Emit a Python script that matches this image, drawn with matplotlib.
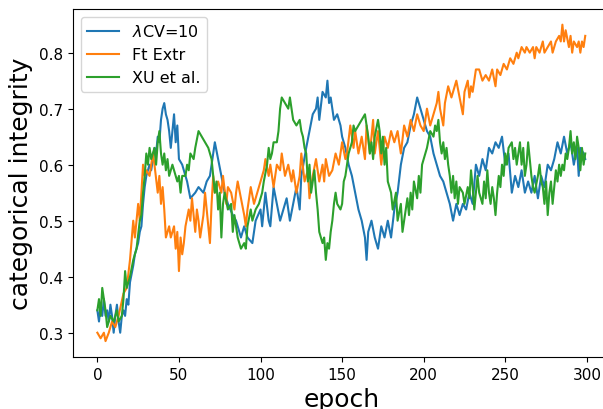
import matplotlib
matplotlib.use('Agg')
import matplotlib.pyplot as plt

# values, (epoch, value) pairs per series
cv_epochs = [0, 1, 2, 3, 4, 5, 6, 7, 8, 9, 10, 11, 12, 13, 14, 15, 16, 17, 18, 19,
             20, 22, 23, 25, 26, 27, 28, 29, 30, 32, 33, 35, 36, 37, 38, 39, 40, 41, 42, 43,
             44, 45, 46, 47, 48, 49, 50, 52, 55, 57, 60, 62, 65, 67, 69, 71, 72, 74, 76, 78,
             80, 83, 85, 88, 90, 92, 95, 97, 100, 101, 103, 105, 106, 108, 110, 112, 114, 116, 118, 120,
             122, 124, 125, 128, 130, 132, 134, 135, 136, 138, 140, 141, 142, 143, 145, 147, 149, 150, 152, 154,
             156, 158, 160, 162, 164, 165, 166, 168, 170, 172, 174, 176, 178, 180, 182, 184, 186, 188, 190, 192,
             194, 196, 198, 200, 202, 204, 206, 208, 210, 212, 214, 216, 218, 220, 222, 224, 226, 228, 230, 232,
             234, 236, 238, 240, 242, 244, 246, 248, 250, 252, 254, 256, 258, 260, 262, 264, 266, 268, 270, 272,
             274, 276, 278, 280, 282, 284, 286, 288, 290, 292, 294, 295, 296, 298, 299]
cv_values = [0.34, 0.32, 0.35, 0.33, 0.36, 0.33, 0.34, 0.32, 0.35, 0.33, 0.30, 0.33, 0.35, 0.32, 0.30, 0.33, 0.34, 0.33, 0.36, 0.35,
             0.39, 0.42, 0.44, 0.46, 0.48, 0.49, 0.53, 0.56, 0.58, 0.60, 0.59, 0.63, 0.62, 0.65, 0.64, 0.68, 0.70, 0.71, 0.69, 0.68,
             0.66, 0.63, 0.66, 0.69, 0.64, 0.67, 0.61, 0.60, 0.57, 0.54, 0.55, 0.56, 0.55, 0.57, 0.58, 0.62, 0.64, 0.61, 0.58, 0.55,
             0.53, 0.51, 0.50, 0.47, 0.49, 0.47, 0.46, 0.50, 0.52, 0.49, 0.55, 0.50, 0.49, 0.56, 0.53, 0.50, 0.52, 0.54, 0.50, 0.53,
             0.56, 0.52, 0.58, 0.63, 0.66, 0.69, 0.70, 0.72, 0.68, 0.73, 0.72, 0.75, 0.71, 0.72, 0.68, 0.69, 0.67, 0.65, 0.63, 0.60,
             0.58, 0.55, 0.52, 0.50, 0.47, 0.43, 0.48, 0.50, 0.47, 0.45, 0.49, 0.47, 0.50, 0.47, 0.52, 0.55, 0.60, 0.63, 0.64, 0.67,
             0.69, 0.72, 0.70, 0.68, 0.66, 0.65, 0.62, 0.60, 0.58, 0.57, 0.55, 0.53, 0.50, 0.53, 0.51, 0.53, 0.52, 0.55, 0.53, 0.60,
             0.58, 0.61, 0.59, 0.63, 0.62, 0.64, 0.63, 0.65, 0.60, 0.62, 0.55, 0.58, 0.56, 0.59, 0.55, 0.57, 0.55, 0.58, 0.54, 0.58,
             0.56, 0.60, 0.59, 0.61, 0.64, 0.62, 0.65, 0.62, 0.64, 0.60, 0.63, 0.58, 0.63, 0.62, 0.61]

ft_epochs = [0, 2, 4, 5, 7, 9, 11, 13, 16, 18, 20, 22, 23, 24, 25, 26, 27, 28, 29, 30,
             32, 34, 35, 37, 38, 39, 40, 41, 42, 44, 45, 47, 48, 49, 50, 51, 52, 53, 54, 56,
             57, 58, 59, 60, 61, 62, 63, 65, 66, 67, 68, 69, 70, 71, 72, 74, 76, 77, 79, 80,
             82, 84, 85, 86, 88, 90, 91, 92, 94, 96, 98, 100, 102, 103, 105, 106, 108, 110, 112, 113,
             115, 117, 119, 120, 122, 124, 125, 127, 129, 130, 132, 134, 136, 138, 139, 140, 142, 144, 146, 148,
             150, 152, 153, 155, 157, 158, 160, 162, 164, 165, 167, 169, 170, 172, 174, 176, 178, 180, 182, 184,
             186, 188, 190, 192, 194, 196, 198, 200, 202, 204, 206, 208, 209, 210, 212, 213, 215, 217, 219, 220,
             222, 224, 225, 227, 228, 229, 230, 232, 234, 236, 238, 240, 242, 244, 245, 247, 249, 251, 253, 255,
             257, 258, 260, 262, 263, 265, 267, 268, 269, 271, 273, 274, 276, 278, 279, 281, 283, 284, 285, 286,
             287, 289, 290, 291, 292, 294, 295, 296, 297, 298, 299]
ft_values = [0.30, 0.29, 0.30, 0.285, 0.30, 0.32, 0.31, 0.33, 0.37, 0.38, 0.43, 0.50, 0.47, 0.50, 0.53, 0.50, 0.55, 0.60, 0.58, 0.59,
             0.58, 0.62, 0.60, 0.55, 0.58, 0.53, 0.56, 0.52, 0.47, 0.49, 0.47, 0.49, 0.45, 0.48, 0.41, 0.47, 0.44, 0.46, 0.49, 0.52,
             0.50, 0.54, 0.51, 0.48, 0.52, 0.50, 0.47, 0.51, 0.55, 0.52, 0.49, 0.46, 0.53, 0.58, 0.55, 0.57, 0.55, 0.58, 0.53, 0.56,
             0.55, 0.52, 0.55, 0.57, 0.54, 0.51, 0.49, 0.52, 0.56, 0.53, 0.55, 0.57, 0.59, 0.61, 0.58, 0.60, 0.56, 0.60, 0.59, 0.62,
             0.58, 0.60, 0.57, 0.59, 0.55, 0.58, 0.62, 0.57, 0.59, 0.54, 0.58, 0.61, 0.57, 0.60, 0.57, 0.61, 0.58, 0.59, 0.62, 0.60,
             0.64, 0.61, 0.62, 0.67, 0.63, 0.66, 0.62, 0.65, 0.61, 0.67, 0.62, 0.68, 0.62, 0.66, 0.60, 0.65, 0.63, 0.66, 0.64, 0.66,
             0.62, 0.67, 0.65, 0.68, 0.66, 0.69, 0.67, 0.66, 0.70, 0.67, 0.69, 0.71, 0.73, 0.70, 0.67, 0.71, 0.74, 0.72, 0.74, 0.75,
             0.72, 0.69, 0.73, 0.75, 0.72, 0.74, 0.73, 0.77, 0.77, 0.75, 0.76, 0.75, 0.77, 0.74, 0.77, 0.76, 0.78, 0.77, 0.79, 0.78,
             0.80, 0.79, 0.81, 0.80, 0.81, 0.80, 0.81, 0.79, 0.81, 0.80, 0.82, 0.80, 0.81, 0.82, 0.80, 0.82, 0.83, 0.82, 0.85, 0.82,
             0.84, 0.81, 0.83, 0.80, 0.82, 0.81, 0.82, 0.80, 0.82, 0.81, 0.83]

xu_epochs = [0, 1, 2, 3, 5, 6, 8, 10, 12, 13, 15, 16, 17, 18, 20, 22, 24, 26, 27, 28,
             29, 30, 31, 32, 33, 35, 36, 37, 38, 39, 40, 41, 42, 43, 44, 46, 48, 49, 50, 51,
             52, 54, 55, 56, 57, 59, 60, 62, 64, 66, 68, 70, 71, 72, 73, 74, 75, 76, 77, 78,
             80, 82, 83, 84, 86, 88, 90, 91, 92, 94, 95, 97, 99, 101, 102, 104, 105, 106, 107, 108,
             110, 111, 112, 113, 115, 117, 118, 119, 120, 122, 124, 125, 126, 127, 128, 129, 130, 131, 133, 134,
             135, 136, 137, 138, 139, 140, 141, 142, 143, 144, 145, 146, 147, 149, 150, 151, 152, 154, 156, 157,
             158, 160, 162, 164, 165, 166, 167, 168, 169, 170, 172, 173, 174, 175, 176, 177, 178, 180, 181, 183,
             184, 186, 187, 188, 190, 191, 192, 193, 194, 196, 197, 198, 199, 201, 202, 204, 206, 207, 208, 209,
             210, 211, 212, 213, 214, 215, 216, 217, 218, 219, 220, 221, 222, 224, 225, 227, 228, 229, 230, 231,
             232, 233, 234, 236, 237, 238, 239, 240, 241, 242, 243, 244, 245, 246, 247, 248, 249, 250, 251, 252,
             254, 255, 256, 257, 258, 259, 260, 261, 262, 263, 264, 265, 266, 267, 268, 270, 271, 272, 273, 274,
             275, 276, 277, 278, 279, 280, 281, 282, 283, 284, 285, 286, 287, 288, 289, 290, 291, 292, 293, 294,
             295, 296, 297, 298, 299]
xu_values = [0.34, 0.36, 0.33, 0.38, 0.34, 0.31, 0.33, 0.32, 0.34, 0.32, 0.33, 0.36, 0.41, 0.38, 0.40, 0.43, 0.45, 0.50, 0.51, 0.55,
             0.58, 0.62, 0.60, 0.63, 0.61, 0.63, 0.60, 0.64, 0.66, 0.62, 0.60, 0.62, 0.59, 0.61, 0.58, 0.60, 0.58, 0.57, 0.58, 0.55,
             0.58, 0.58, 0.60, 0.59, 0.62, 0.61, 0.63, 0.66, 0.65, 0.64, 0.63, 0.61, 0.58, 0.55, 0.57, 0.52, 0.55, 0.47, 0.53, 0.55,
             0.52, 0.53, 0.48, 0.51, 0.47, 0.45, 0.46, 0.45, 0.49, 0.52, 0.50, 0.52, 0.53, 0.55, 0.57, 0.60, 0.63, 0.61, 0.62, 0.64,
             0.64, 0.66, 0.70, 0.72, 0.71, 0.70, 0.72, 0.70, 0.68, 0.67, 0.68, 0.66, 0.65, 0.63, 0.62, 0.57, 0.60, 0.55, 0.59, 0.55,
             0.52, 0.48, 0.47, 0.46, 0.47, 0.43, 0.46, 0.45, 0.48, 0.50, 0.53, 0.55, 0.53, 0.52, 0.53, 0.57, 0.58, 0.62, 0.64, 0.67,
             0.66, 0.67, 0.68, 0.69, 0.67, 0.65, 0.62, 0.64, 0.61, 0.65, 0.68, 0.66, 0.62, 0.65, 0.60, 0.63, 0.57, 0.55, 0.52, 0.55,
             0.50, 0.53, 0.48, 0.50, 0.54, 0.51, 0.55, 0.52, 0.57, 0.54, 0.58, 0.55, 0.60, 0.62, 0.63, 0.66, 0.65, 0.67, 0.66, 0.68,
             0.64, 0.62, 0.64, 0.61, 0.63, 0.60, 0.58, 0.55, 0.58, 0.54, 0.57, 0.53, 0.56, 0.55, 0.53, 0.56, 0.54, 0.59, 0.56, 0.52,
             0.55, 0.58, 0.55, 0.53, 0.57, 0.54, 0.59, 0.55, 0.53, 0.56, 0.54, 0.51, 0.55, 0.58, 0.56, 0.60, 0.58, 0.62, 0.60, 0.63,
             0.64, 0.61, 0.63, 0.60, 0.62, 0.64, 0.60, 0.63, 0.58, 0.60, 0.64, 0.61, 0.58, 0.56, 0.55, 0.58, 0.60, 0.57, 0.56, 0.53,
             0.57, 0.51, 0.55, 0.57, 0.53, 0.56, 0.59, 0.57, 0.60, 0.58, 0.60, 0.59, 0.62, 0.61, 0.63, 0.66, 0.62, 0.64, 0.61, 0.65,
             0.63, 0.59, 0.63, 0.60, 0.62]

fig = plt.figure(figsize=(6.03, 4.10), dpi=100)
# axes run a little past the right edge, like the cropped original
ax = fig.add_axes([0.121, 0.127, 0.89, 0.849])

ax.plot(cv_epochs, cv_values, label=r'$\lambda$CV=10', linewidth=1.5)
ax.plot(ft_epochs, ft_values, label='Ft Extr', linewidth=1.5)
ax.plot(xu_epochs, xu_values, label='XU et al.', linewidth=1.5)

ax.set_xlabel('epoch', fontsize=18)
ax.set_ylabel('categorical integrity', fontsize=18)
ax.tick_params(labelsize=11)
ax.legend(loc='upper left', fontsize=11.5)

fig.savefig('out.png', dpi=100)
